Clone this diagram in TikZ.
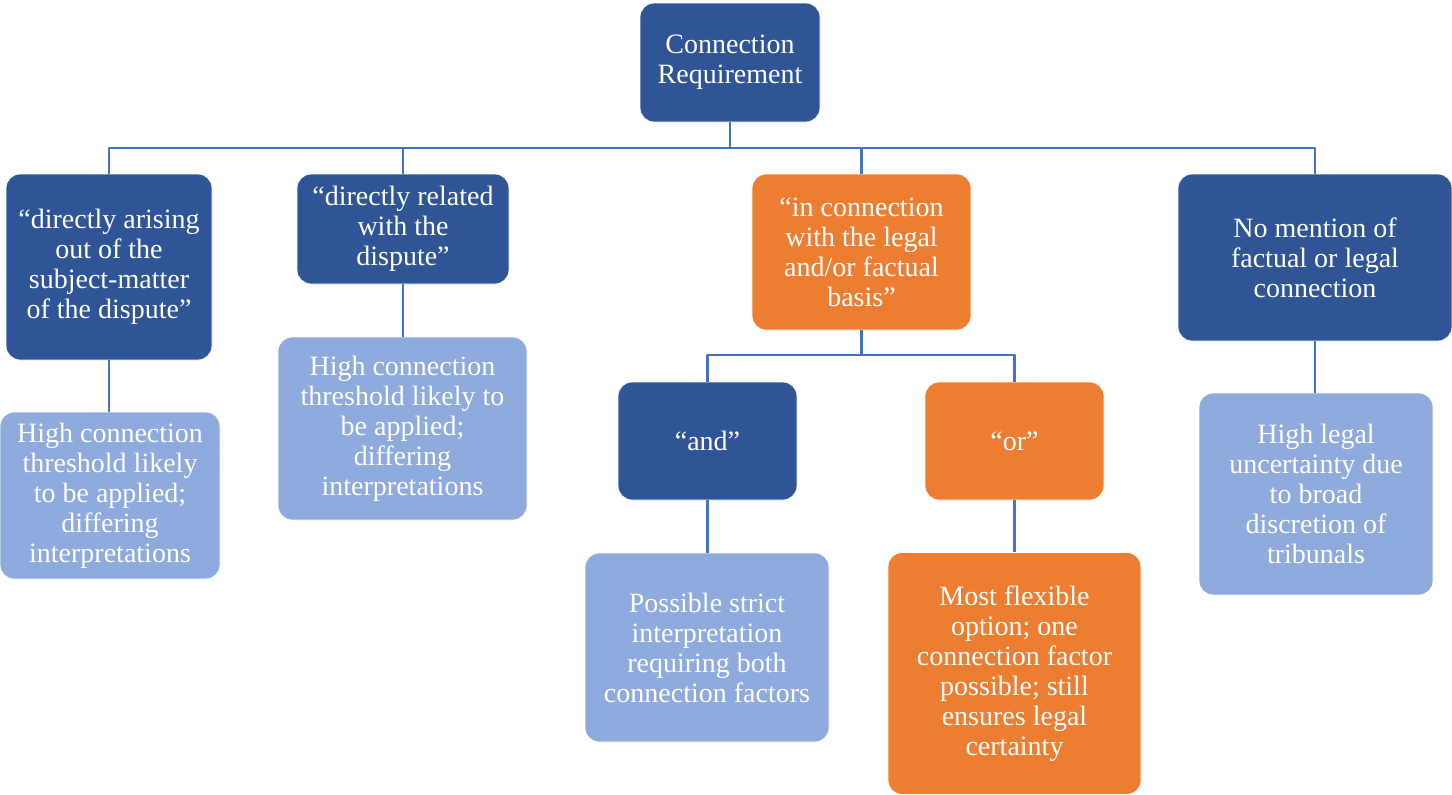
\documentclass[tikz,border=0pt]{standalone}
\usepackage{fontspec}
\setmainfont{Liberation Serif}
\definecolor{dkblue}{HTML}{2F5597}
\definecolor{orng}{HTML}{ED7D31}
\definecolor{ltblue}{HTML}{8FAADC}
\definecolor{wire}{HTML}{4472C4}
\tikzset{
	box/.style={rounded corners=7pt,align=center,inner sep=0pt,text=white,draw=white,line width=.4pt,font=\fontsize{14}{15}\selectfont},
	dk/.style={box,fill=dkblue},
	og/.style={box,fill=orng},
	lt/.style={box,fill=ltblue},
	conn/.style={draw=wire,line width=1.4pt}
}
\begin{document}
\begin{tikzpicture}[x=.5pt,y=-.5pt,line join=round]
	\useasboundingbox (0,0) rectangle (1452,794);
	% top
	\node[dk,minimum width=90pt,minimum height=59.5pt] (req) at (730,62.5) {Connection\\Requirement};
	% first row
	\node[dk,minimum width=103pt,minimum height=93pt] (arising) at (109,267) {“directly arising\\out of the\\subject-matter\\of the dispute”};
	\node[dk,minimum width=106pt,minimum height=55pt] (related) at (403,229) {“directly related\\with the\\dispute”};
	\node[og,minimum width=109.5pt,minimum height=78pt] (basis) at (861.5,252) {“in connection\\with the legal\\and/or factual\\basis”};
	\node[dk,minimum width=137pt,minimum height=83.5pt] (nomention) at (1315,257.5) {No mention of\\factual or legal\\connection};
	% second row
	\node[lt,minimum width=110pt,minimum height=83.5pt] (thrA) at (110,495.5) {High connection\\threshold likely\\to be applied;\\differing\\interpretations};
	\node[lt,minimum width=124.5pt,minimum height=91.5pt] (thrB) at (402.5,428.5) {High connection\\threshold likely to\\be applied;\\differing\\interpretations};
	\node[dk,minimum width=89.5pt,minimum height=59pt] (and) at (707.5,441) {“and”};
	\node[og,minimum width=89.5pt,minimum height=59pt] (or) at (1014.5,441) {“or”};
	\node[lt,minimum width=117pt,minimum height=101pt] (uncert) at (1316,494) {High legal\\uncertainty due\\to broad\\discretion of\\tribunals};
	% third row
	\node[lt,minimum width=122pt,minimum height=94.5pt] (strict) at (707,647.5) {Possible strict\\interpretation\\requiring both\\connection factors};
	\node[og,minimum width=126.5pt,minimum height=121pt] (flex) at (1014.5,673.5) {Most flexible\\option; one\\connection factor\\possible; still\\ensures legal\\certainty};
	\path (730,148) coordinate (bus) (861.5,355) coordinate (subbus);
	% connectors
	\draw[conn] (req.south) -- (bus);
	\draw[conn] (arising.north) |- (bus) -| (nomention.north);
	\draw[conn] (related.north) |- (bus) (basis.north) |- (bus);
	\draw[conn] (basis.south) -- (subbus);
	\draw[conn] (and.north) |- (subbus) -| (or.north);
	\foreach \a/\b in {arising/thrA,related/thrB,nomention/uncert,and/strict,or/flex}
		\draw[conn] (\a.south) -- (\a.south |- \b.north);
\end{tikzpicture}
\end{document}
